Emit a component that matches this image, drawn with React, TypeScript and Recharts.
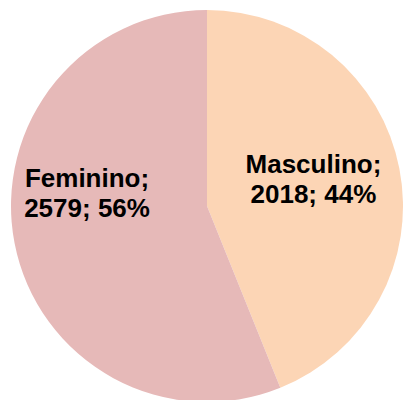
import { PieChart, Pie, Cell } from "recharts";

const categories = ["Masculino", "Feminino"];
const counts = [2018, 2579];
const colors = ["#FCD5B5", "#E6B9B8"];

// label anchor, as a fraction of the radius from the centre
const labelAnchors = [
  { fx: 0.543, fy: -0.092 },
  { fx: -0.612, fy: -0.018 },
];

const data = categories.map((name, i) => ({ name, value: counts[i] }));

const renderLabel = (props: any) => {
  const { cx, cy, outerRadius, index, name, value, percent } = props;
  const a = labelAnchors[index];
  const x = cx + outerRadius * a.fx;
  const y = cy + outerRadius * a.fy;
  return (
    <text
      x={x}
      y={y}
      textAnchor="middle"
      fill="#000"
      fontFamily="'Liberation Sans', Arial, sans-serif"
      fontWeight="bold"
      fontSize={26}
    >
      <tspan x={x} dy={-15}>{`${name};`}</tspan>
      <tspan x={x} dy={30}>{`${value}; ${Math.round(percent * 100)}%`}</tspan>
    </text>
  );
};

export default function App() {
  return (
    <div style={{ position: "absolute", left: 0, top: 0, background: "#fff" }}>
      <PieChart width={403} height={400} margin={{ top: 0, right: 0, bottom: 0, left: 0 }}>
        <Pie
          data={data}
          dataKey="value"
          nameKey="name"
          cx={207}
          cy={206}
          outerRadius={196}
          startAngle={90}
          endAngle={-270}
          stroke="none"
          label={renderLabel}
          labelLine={false}
          isAnimationActive={false}
        >
          {data.map((d, i) => (
            <Cell key={d.name} fill={colors[i]} />
          ))}
        </Pie>
      </PieChart>
    </div>
  );
}
